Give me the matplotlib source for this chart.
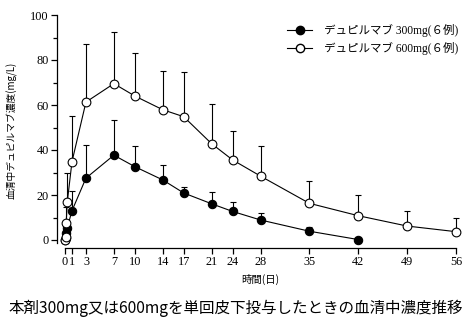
import matplotlib
matplotlib.use("Agg")
import matplotlib.pyplot as plt
import numpy as np
from matplotlib.lines import Line2D

plt.rcParams['font.family'] = ['Liberation Serif', 'Noto Sans CJK JP']

# Data
days_300 = [0, 0.083, 0.167, 0.33, 1, 3, 7, 10, 14, 17, 21, 24, 28, 35, 42]
mean_300 = [0, 1.0, 3.0, 5.5, 13.0, 27.5, 37.7, 32.6, 26.7, 20.9, 16.1, 12.7, 8.9, 3.9, 0.2]
upper_300 = [0, 1.0, 3.0, 5.5, 21.6, 42.2, 53.2, 41.8, 33.3, 23.7, 21.3, 17.0, 11.8, 5.9, 0.2]

days_600 = [0, 0.083, 0.167, 0.33, 1, 3, 7, 10, 14, 17, 21, 24, 28, 35, 42, 49, 56]
mean_600 = [0, 1.5, 7.5, 17.0, 34.8, 61.3, 69.5, 64.0, 57.9, 54.8, 42.8, 35.6, 28.4, 16.3, 10.8, 6.2, 3.7]
upper_600 = [0, 1.5, 14.7, 29.7, 55.0, 87.0, 92.3, 83.0, 75.0, 74.7, 60.3, 48.3, 41.8, 26.4, 20.0, 13.0, 10.0]

x_ticks = [0, 1, 3, 7, 10, 14, 17, 21, 24, 28, 35, 42, 49, 56]
y_ticks = [0, 20, 40, 60, 80, 100]
label_300 = "デュピルマブ 300mg(６例)"
label_600 = "デュピルマブ 600mg(６例)"
x_label = "時間(日)"
y_label = "血清中デュピルマブ濃度(mg/L)"
caption = "本剤300mg又は600mgを単回皮下投与したときの血清中濃度推移"

W, H = 470, 330
fig = plt.figure(figsize=(W/100, H/100), dpi=100)
ax = fig.add_axes([65/W, (H-240)/H, 391/W, 225/H])
ax.set_xlim(0, 56)
ax.set_ylim(0, 100)

def errs(mean, upper):
    m = np.array(mean); u = np.array(upper)
    return [np.zeros_like(m), u - m]

ax.errorbar(days_600, mean_600, yerr=errs(mean_600, upper_600), fmt='none',
            ecolor='black', elinewidth=0.8, capsize=2.5, capthick=0.8, zorder=1, clip_on=False)
ax.errorbar(days_300, mean_300, yerr=errs(mean_300, upper_300), fmt='none',
            ecolor='black', elinewidth=0.8, capsize=2.5, capthick=0.8, zorder=1, clip_on=False)
ax.plot(days_300, mean_300, '-o', color='black', lw=0.8, ms=6, mfc='black',
        mec='black', mew=0.8, zorder=3, clip_on=False)
ax.plot(days_600, mean_600, '-o', color='black', lw=0.8, ms=6.3, mfc='white',
        mec='black', mew=0.8, zorder=4, clip_on=False)

for s in ['top', 'right']:
    ax.spines[s].set_visible(False)
ax.spines['left'].set_position(('outward', 5.8))
ax.spines['bottom'].set_position(('outward', 5.8))
ax.spines['left'].set_bounds(-1.5, 100)
ax.spines['bottom'].set_bounds(0, 56)
for s in ['left', 'bottom']:
    ax.spines[s].set_linewidth(0.9)

ax.set_xticks(x_ticks)
ax.set_xticklabels([str(t) for t in x_ticks])
ax.set_yticks(y_ticks)
ax.set_yticklabels([str(t) for t in y_ticks])
ax.set_yticks([10, 30, 50, 70, 90], minor=True)
ax.tick_params(axis='both', which='major', labelsize=8.8, width=0.9, length=4, direction='out', pad=2)
ax.tick_params(axis='y', which='minor', width=0.9, length=3, direction='out')

ax.set_xlabel(x_label, fontsize=7.5, family=['Noto Sans CJK JP'], labelpad=4)
fig.text(12/W, 1 - 130/H, y_label, rotation=90, fontsize=7, family=['Noto Sans CJK JP'],
         ha='center', va='center')
fig.text(236/W, 1 - 308/H, caption, fontsize=11.2, family=['Noto Sans CJK JP'],
         ha='center', va='center')

handles = [Line2D([], [], color='black', lw=0.8, marker='o', ms=6, mfc='black', mec='black'),
           Line2D([], [], color='black', lw=0.8, marker='o', ms=6, mfc='white', mec='black')]
fig.legend(handles, [label_300, label_600], loc='upper left',
           bbox_to_anchor=(287/W, 1 - 24/H), frameon=False,
           prop={'family': ['Liberation Serif', 'Noto Sans CJK JP'], 'size': 8.3},
           handlelength=2.2, handletextpad=1.0, labelspacing=0.45, borderpad=0, borderaxespad=0)

fig.savefig("out.png", dpi=100)
